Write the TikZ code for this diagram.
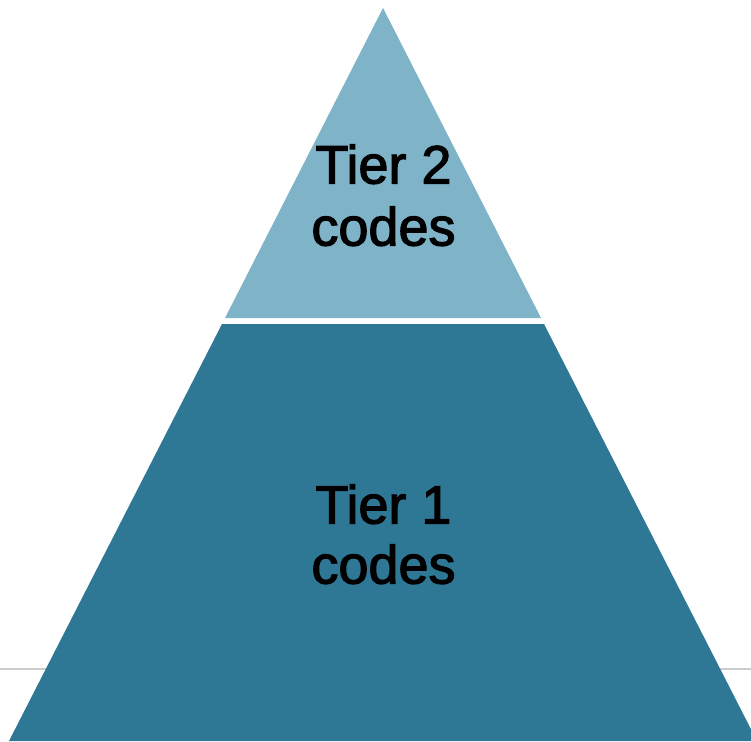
\documentclass[tikz,border=0pt]{standalone}
\usepackage{fontspec}
\setmainfont{Liberation Sans}
\newfontfamily\tierfont[FakeBold=2.2]{Liberation Sans}
\definecolor{tierlight}{HTML}{7FB3C8}
\definecolor{tierdark}{HTML}{2E7896}
\begin{document}
\begin{tikzpicture}[x=1pt,y=-1pt,
  lbl/.style={anchor=base,inner sep=0pt,font=\tierfont\fontsize{54}{62}\selectfont,text=black}]
\useasboundingbox (0,0) rectangle (751,741);
\fill[white] (0,0) rectangle (751,741);
% faint horizontal rule behind pyramid
\draw[black!20,line width=1.5pt] (0,669) -- (751,669);
% top triangle
\fill[tierlight] (383,8) -- (541,318) -- (225,318) -- cycle;
% bottom trapezoid
\fill[tierdark] (222,324) -- (544,324) -- (757,741) -- (9,741) -- cycle;
% texts
\node[lbl] (t2a) at (383.5,183.5) {Tier 2};
\node[lbl] (t2b) at (383.5,245.5) {codes};
\node[lbl] (t1a) at (383.5,523.5) {Tier 1};
\node[lbl] (t1b) at (383.5,583.5) {codes};
\end{tikzpicture}
\end{document}
